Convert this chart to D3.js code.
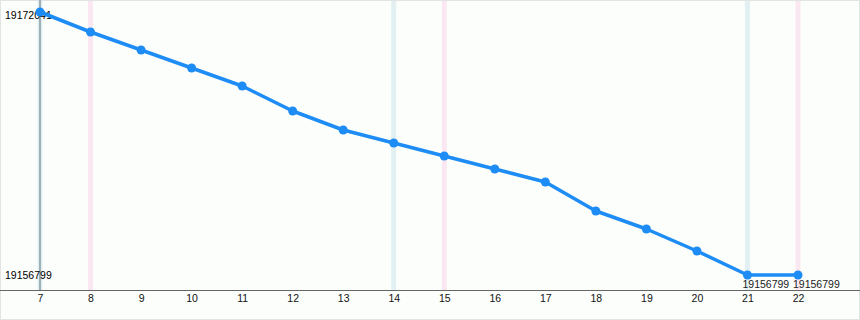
<!DOCTYPE html>
<html>
<head>
<meta charset="utf-8">
<script src="https://cdn.jsdelivr.net/npm/d3@7"></script>
<style>
  html, body { margin: 0; padding: 0; background: #fff; }
  svg { display: block; font-family: "Liberation Sans", Arial, sans-serif; }
</style>
</head>
<body>
<svg id="chart" width="860" height="320"></svg>
<script>
// data
const days = [7, 8, 9, 10, 11, 12, 13, 14, 15, 16, 17, 18, 19, 20, 21, 22];
const values = [19172041, 19170882, 19169839, 19168796, 19167753, 19166304, 19165203, 19164449,
                19163696, 19162943, 19162189, 19160509, 19159466, 19158191, 19156799, 19156799];
const blueDays = [7, 14, 21];
const pinkDays = [8, 15, 22];

const W = 860, H = 320;
const axisY = 290;

const svg = d3.select('#chart');

svg.append('rect')
    .attr('x', 0.5).attr('y', 0.5)
    .attr('width', W - 1).attr('height', H - 1)
    .attr('fill', '#fbfefb')
    .attr('stroke', '#e2e4e2');

const x = d3.scaleLinear().domain([d3.min(days), d3.max(days)]).range([40, 798]);
const y = d3.scaleLinear().domain([d3.min(values), d3.max(values)]).range([275, 12]);

// weekday bands
svg.selectAll('rect.blue')
    .data(blueDays)
    .enter().append('rect')
    .attr('class', 'blue')
    .attr('x', d => x(d) - 2.5)
    .attr('y', 1)
    .attr('width', 5)
    .attr('height', axisY - 1)
    .attr('fill', '#e3f0f3');

svg.selectAll('rect.pink')
    .data(pinkDays)
    .enter().append('rect')
    .attr('class', 'pink')
    .attr('x', d => x(d) - 2.5)
    .attr('y', 1)
    .attr('width', 5)
    .attr('height', axisY - 1)
    .attr('fill', '#fbe7f1');

// y axis line
svg.append('line')
    .attr('x1', x(days[0])).attr('x2', x(days[0]))
    .attr('y1', 0).attr('y2', axisY)
    .attr('stroke', '#5a6e78')
    .attr('stroke-width', 1);

// x axis
const xAxis = d3.axisBottom(x)
    .tickValues(days)
    .tickFormat(d3.format('d'))
    .tickSize(0)
    .tickPadding(5);

const gx = svg.append('g')
    .attr('transform', `translate(0,${axisY})`)
    .call(xAxis);
gx.select('.domain').remove();
gx.selectAll('text').attr('font-size', 10.5).attr('fill', '#111')
    .attr('font-family', '"Liberation Sans", Arial, sans-serif');

svg.append('line')
    .attr('x1', 0).attr('x2', W)
    .attr('y1', axisY + 0.5).attr('y2', axisY + 0.5)
    .attr('stroke', '#666');

// min / max labels on left
const yMax = d3.max(values), yMin = d3.min(values);
svg.append('text')
    .attr('x', 5)
    .attr('y', Math.max(y(yMax), 15))
    .attr('dy', '0.35em')
    .attr('font-size', 10.5)
    .attr('fill', '#000')
    .text(yMax);
svg.append('text')
    .attr('x', 5)
    .attr('y', y(yMin))
    .attr('dy', '0.35em')
    .attr('font-size', 10.5)
    .attr('fill', '#000')
    .text(yMin);

// line
const line = d3.line()
    .x((d, i) => x(days[i]))
    .y(d => y(d));

svg.append('path')
    .datum(values)
    .attr('d', line)
    .attr('fill', 'none')
    .attr('stroke', '#1e8cf5')
    .attr('stroke-width', 3.5)
    .attr('stroke-linejoin', 'round');

svg.selectAll('circle.pt')
    .data(values)
    .enter().append('circle')
    .attr('class', 'pt')
    .attr('cx', (d, i) => x(days[i]))
    .attr('cy', d => y(d))
    .attr('r', 4.5)
    .attr('fill', '#1e8cf5');

// labels on the last points
const lastIdx = [days.length - 2, days.length - 1];
svg.selectAll('text.end')
    .data(lastIdx)
    .enter().append('text')
    .attr('class', 'end')
    .attr('x', i => x(days[i]) - 5)
    .attr('y', i => y(values[i]) + 13)
    .attr('font-size', 10.5)
    .attr('fill', '#222')
    .text(i => values[i]);
</script>
</body>
</html>
